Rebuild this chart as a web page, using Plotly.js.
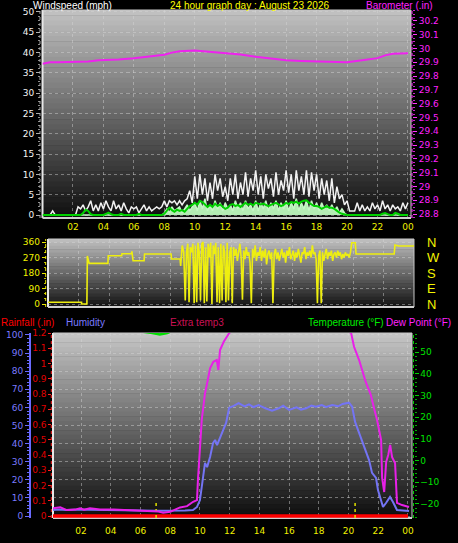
<!DOCTYPE html>
<html><head><meta charset="utf-8">
<script src="https://cdn.plot.ly/plotly-3.0.1.min.js"></script>
<style>html,body{margin:0;padding:0;background:#000;}#chart{width:458px;height:543px;}</style>
</head><body><div id="chart"></div>
<script>
// ---------------- DATA ----------------
const hourTickVals = [2,4,6,8,10,12,14,16,18,20,22,24];
const hourTickText = ['02','04','06','08','10','12','14','16','18','20','22','00'];

// wind, 10-minute samples from 00:00 to 24:00 (mph)
const windGust = [
 0,0,0,0,1,0, 0,0,0,0,0,0, 0,0,2,1.5,2.5,1, 2,3.5,1,2.5,1,3,
 1.5,3.5,2,1,3.5,1.5, 2.5,1,3,1.5,0.5,2, 1.5,2,0.5,1.5,2.5,1, 2,1,1.5,2,1.5,2,
 3.5,2,3.5,3,3.5,2.5, 3.5,2.5,3.5,4,6,3, 9.5,4,10,5,9,3.5, 8,4,10,6,9,4.5,
 7,3.5,9,5,10,4, 8,5,10.5,4.5,9,6, 11,5,9.5,4,10,6.5, 9,4.5,10.5,5,8.5,6,
 11,5.5,10,4,11,6, 9.5,5,11,4.5,10.5,6, 10,4,9,5,8.5,3.5, 9,3,7,4,5,2.5,
 3.5,1,1,1,3,1, 2.5,1,2,1,3,1.5, 2.5,1,3.5,1.5,2.5,1, 2.5,1.5,2,1,3,1.5, 3];
const windSpeed = [
 0,0,0,0,0,0, 0,0,0,0,0,0, 0,0,0,0,0,0, 0,0,0,0,0,0,
 0,0,0,0,0,0, 0,0,0,0,0,0, 0,0,0,0,0,0, 0,0,0,0,0,0,
 0.5,1.5,0.5,2,1,1.5, 2,0.5,1.5,2.5,1,2, 3,1,3.5,1.5,4,1, 2.5,1,3.5,1.5,3,1,
 3,1.5,2.5,1,3.5,1.5, 3,1,3.5,1.5,2.5,1, 3.5,1,3,1.5,3.5,1, 3,1.5,3.5,1,3,1.5,
 3.5,1,3,1.5,4,1, 3,1.5,3.5,1,3.5,1.5, 3,1,3,1.5,2.5,1, 2.5,1,2,0.5,1.5,0.5,
 0,0,0,0,0,0, 0,0,0,0,0,0, 0,0,0,0,0,0, 0,0,0,0,0,0, 0];
const windAvg = [
 0,0,0,0,0,0, 0,0,0,0,0,0, 0,0,0,0,0.5,1.3, 1,0.2,0,0,0,0,
 0,0.3,0.6,0.2,0,0, 0,0.3,0,0,0,0, 0,0,0.3,0,0,0, 0,0,0,0,0,0,
 0.3,1,1.8,1.2,0.8,1.3, 1,1.2,0.8,1.5,2.2,2.5, 3,2.5,3.5,3.2,2.5,2, 2.5,2,2.8,2.2,2.6,2,
 1.5,1.8,2.5,2.7,2.2,2.5, 2,2.5,3,2.5,2.8,2.4, 3,2.8,2.6,2.8,2.4,2.2, 2.5,2.8,3,2.6,2.2,2.5,
 3,2.7,3.2,3,3.3,2.8, 3.3,3.5,3.6,3,2.5,2.2, 2.2,2,1.5,1.8,2.2,1.8, 1.8,1.5,1,0.6,0.3,0.1,
 0,0,0,0,0,0, 0,0,0,0,0,0, 0,0,0.3,0.5,0.2,0, 0,0.5,0.3,0,0,0, 0];
const windHours = windGust.map((_, i) => i / 6);

// barometer (in)
const baroHours  = [0,0.5,1,2,3,3.7,4,5,6,7,8,8.5,9,10,10.5,11,12,13,14,15,16,17,18,19,20,21,22,22.5,23,24];
const baroValues = [29.89,29.90,29.90,29.90,29.905,29.915,29.915,29.92,29.93,29.94,29.955,29.97,29.98,29.985,29.98,29.975,29.97,29.957,29.94,29.925,29.915,29.91,29.905,29.90,29.90,29.915,29.93,29.95,29.962,29.965];
const baroTickVals = [28.8,28.9,29,29.1,29.2,29.3,29.4,29.5,29.6,29.7,29.8,29.9,30,30.1,30.2];

// wind direction (degrees)
const dirStepHours = [0,2.2,2.2,2.55,2.58,2.7,3.93,3.95,4.83,4.85,5.47,5.5,5.58,6.3,6.33,8.07,8.1,8.66,8.7,8.8,8.9];
const dirStepDeg   = [10,10,0,0,279,236,236,280,280,292,292,306,251,251,290,290,261,261,221,340,300];
const dirGustyStart = 9; // 5-minute samples from 09:00
const dirGustyDeg = [
 20,300,350,10,330,300,350,5,340,10,355,300,
 20,350,360,5,330,15,350,270,355,0,340,290,
 355,10,330,5,350,20,340,300,10,355,20,300,
 330,5,330,280,320,250,300,350,270,25,310,260,
 330,280,300,240,5,320,270,340,250,300,280,330,
 250,310,270,320,230,290,310,260,300,5,290,320,
 260,300,250,290,320,270,300,240,310,280,330,260,
 290,310,250,300,270,320,280,240,300,290,330,260,
 300,280,310,270,340,290,300,260,5,280,310,5,
 300,250,290,320,260,300,280,310,250,290,300,270,
 310,280,300,260,290,270,300,280,290,270,300];
const dirTailHours = [19.92,20.15,20.2,22.7,22.75,23,24];
const dirTailDeg   = [356,356,290,290,343,337,337];
const dirTickVals = [0,90,180,270,360];
const dirCompass  = ['N','E','S','W','N'];

// humidity (%)
const humHours  = [0.1,0.5,1,1.5,2,2.5,3,4,5,6,7,8,9,9.53,9.8,10.0,10.2,10.34,10.48,10.68,10.88,11.02,11.15,11.35,11.56,11.76,11.96,12.3,12.6,13.0,13.3,13.6,13.95,14.4,14.85,15.3,15.6,16.0,16.5,16.8,17.15,17.5,17.8,18.2,18.5,18.9,19.3,19.6,20.03,20.24,20.37,20.44,20.71,21.04,21.38,21.58,21.85,21.98,22.25,22.32,22.52,22.79,22.99,23.26,24.07];
const humValues = [3.3,3.6,3.3,3.5,3.6,3.4,3.3,3.1,3,3,2.9,2.8,3,3.3,5,8.8,19.9,29.3,27,32.6,40.3,42,39.2,43.6,47.5,51.4,59.7,61,62.3,60.5,61.7,60.2,61.3,59.5,58.2,59.5,61,58.6,60,58.8,59.5,61,60.4,61.3,60.2,61.3,60.6,61.9,62.6,60.4,55,52,45.9,38.1,30.9,23.8,21,14.4,7.7,5,7.2,10.5,7.7,3.3,2.8];

// dew point (°F)
const dewHours  = [0.1,0.6,1.04,1.6,1.93,2.2,2.6,3.28,4.2,5.1,6.0,6.64,7.2,7.52,8.0,8.66,9.13,9.54,9.8,9.87,10.0,10.05,10.12,10.23,10.34,10.46,10.57,10.68,10.9,11.13,11.24,11.35,11.6,11.8,11.96,12.3,14,16,18,19.8,20.17,20.37,20.71,21.15,21.5,21.72,21.92,22.19,22.26,22.4,22.53,22.67,22.8,22.93,23.13,23.26,23.6,24.07];
const dewValues = [-22,-21.5,-22.8,-22.6,-22,-22.6,-22,-22.5,-22.6,-22.8,-22.9,-23.1,-23.5,-24,-23.6,-21.6,-21,-19,-18.2,-8.2,3.3,11,18.7,24.8,31,34.8,39.4,42.5,45.5,46.3,41.7,50.9,54.7,57,58.6,61,64,65,63,60,58.8,52.4,46.3,36.3,30.2,24,18.7,9.5,-8,-14.5,-0.7,2.6,7.2,1.6,-1.1,-19.5,-20.5,-21.4];

// temperature (°F) - mostly above the displayed range
const tempHours  = [0,2,4,5.5,6.5,6.8,7.3,7.8,8.2,9,10,12,14,16,18,20,22,24];
const tempValues = [66,64,62,60,59.2,58.7,58.1,58.7,60,64,70,80,86,88,84,76,70,67];

// rainfall (in)
const rainHours  = [0,2,4,6,8,10,12,14,16,18,20,22,24];
const rainValues = [0,0,0,0,0,0,0,0,0,0,0,0,0];
const rainTickVals = [0,0.1,0.2,0.3,0.4,0.5,0.6,0.7,0.8,0.9,1,1.1,1.2];

// sunrise / sunset (hours)
const sunEvents = [7.05, 20.44];

// ---------------- LAYOUT HELPERS ----------------
const W = 458, H = 543;
const px = v => v / W;
const py = v => 1 - v / H;
const TF = 'Liberation Sans, Arial, sans-serif';
const TK = 'DejaVu Sans, Arial, sans-serif';
const GRID = 'rgba(215,215,215,0.45)';

function bands(x0, x1, yTop, yBot, cTop, cBot, n) {
  const out = [];
  for (let i = 0; i < n; i++) {
    const t = i / (n - 1);
    const c = Math.round(cTop + (cBot - cTop) * t);
    const ya = yTop + (yBot - yTop) * i / n;
    const yb = yTop + (yBot - yTop) * (i + 1) / n + 0.6;
    out.push({type:'rect', xref:'paper', yref:'paper', x0:px(x0), x1:px(x1),
      y0:py(Math.min(yb, yBot)), y1:py(ya), fillcolor:`rgb(${c},${c},${c})`, line:{width:0}, layer:'below'});
  }
  return out;
}
function frame(x0, x1, yTop, yBot) {
  return [
    {type:'line', xref:'paper', yref:'paper', x0:px(x0), x1:px(x0), y0:py(yBot), y1:py(yTop), line:{color:'#e8e8e8', width:2}, layer:'below'},
    {type:'line', xref:'paper', yref:'paper', x0:px(x0), x1:px(x1), y0:py(yBot), y1:py(yBot), line:{color:'#d0d0d0', width:2}, layer:'below'},
    {type:'line', xref:'paper', yref:'paper', x0:px(x0), x1:px(x1), y0:py(yTop), y1:py(yTop), line:{color:'#c8c8c8', width:1}, layer:'below'},
    {type:'line', xref:'paper', yref:'paper', x0:px(x1), x1:px(x1), y0:py(yBot), y1:py(yTop), line:{color:'#c8c8c8', width:1}, layer:'below'}
  ];
}
function dottedAxis(x, yTop, yBot, color) {
  return {type:'line', xref:'paper', yref:'paper', x0:px(x), x1:px(x), y0:py(yBot), y1:py(yTop),
    line:{color:color, width:1, dash:'dot'}, layer:'above'};
}

const shapes = [].concat(
  bands(42.5, 411, 10, 218, 192, 16, 40),
  bands(48, 414, 239, 307, 188, 22, 20),
  bands(53, 412, 333, 518, 196, 14, 40),
  frame(42.5, 411, 10, 218),
  frame(48, 414, 239, 307),
  frame(53, 412, 333, 518),
  [dottedAxis(40, 10, 218, '#a8a8a8'),
   dottedAxis(412, 10, 218, '#ff33ff'),
   dottedAxis(45.7, 239, 307, '#e8e800'),
   dottedAxis(51.3, 333, 518, '#ff2020'),
   dottedAxis(413.5, 333, 518, '#00d000')]
);

// ---------------- TRACES ----------------
const dirHours = dirStepHours
  .concat(dirGustyDeg.map((_, i) => dirGustyStart + i / 12))
  .concat(dirTailHours);
const dirDeg = dirStepDeg.concat(dirGustyDeg).concat(dirTailDeg);

const traces = [
  {x:windHours, y:windGust, xaxis:'x', yaxis:'y', mode:'lines', line:{color:'#f2f2f2', width:1.5}, hoverinfo:'skip'},
  {x:windHours, y:windSpeed, xaxis:'x', yaxis:'y', mode:'lines', fill:'tozeroy', fillcolor:'#b4ecb4', line:{color:'#c4f6c4', width:1.5}, hoverinfo:'skip'},
  {x:windHours, y:windAvg, xaxis:'x', yaxis:'y', mode:'lines', line:{color:'#00d000', width:2}, hoverinfo:'skip'},
  {x:baroHours, y:baroValues, xaxis:'x', yaxis:'y2', mode:'lines', line:{color:'#ee22ee', width:2}, hoverinfo:'skip'},
  {x:dirHours, y:dirDeg, xaxis:'x2', yaxis:'y3', mode:'lines', line:{color:'#eeee10', width:1.6}, hoverinfo:'skip'},
  {x:dirHours, y:dirDeg, xaxis:'x2', yaxis:'y4', mode:'lines', opacity:0, line:{width:0}, hoverinfo:'skip'},
  {x:humHours, y:humValues, xaxis:'x3', yaxis:'y5', mode:'lines', line:{color:'#7474f4', width:2}, hoverinfo:'skip'},
  {x:tempHours, y:tempValues, xaxis:'x3', yaxis:'y7', mode:'lines', line:{color:'#00e000', width:2.5}, hoverinfo:'skip'},
  {x:dewHours, y:dewValues, xaxis:'x3', yaxis:'y7', mode:'lines', line:{color:'#e820e8', width:2}, hoverinfo:'skip'},
  {x:rainHours, y:rainValues, xaxis:'x3', yaxis:'y6', mode:'lines', line:{color:'#ff0000', width:3.5}, hoverinfo:'skip'}
];
sunEvents.forEach(h => traces.push({x:[h, h], y:[-0.013, 0.105], xaxis:'x3', yaxis:'y6', mode:'lines',
  line:{color:'#e0e000', width:1.5, dash:'dot'}, hoverinfo:'skip'}));

// ---------------- AXES ----------------
const xCommon = {tickvals:hourTickVals, ticktext:hourTickText, tickfont:{family:TK, size:9, color:'#f0f000'},
  showgrid:true, gridcolor:GRID, griddash:'dot', gridwidth:1, zeroline:false, showline:false, ticks:'', fixedrange:true};

const layout = {
  width:W, height:H, margin:{l:0, r:0, t:0, b:0},
  paper_bgcolor:'#000000', plot_bgcolor:'rgba(0,0,0,0)', showlegend:false,
  xaxis: Object.assign({}, xCommon, {domain:[px(42.5), px(411)], range:[0, 24.2], anchor:'y', ticklabelstandoff:2}),
  yaxis: {domain:[py(218), py(10)], range:[-0.74, 50.49], anchor:'free', position:px(40), side:'left',
    tick0:0, dtick:5, ticks:'outside', ticklen:4, tickcolor:'#b0b0b0', tickfont:{family:TK, size:9, color:'#f4f4f4'},
    showgrid:true, gridcolor:GRID, griddash:'dot', zeroline:false, showline:false,
    minor:{dtick:1, ticks:'outside', ticklen:2, tickcolor:'#909090', showgrid:false}},
  yaxis2: {overlaying:'y', side:'right', anchor:'free', position:px(412), range:[28.771, 30.279],
    tickvals:baroTickVals, ticktext:baroTickVals.map(String), ticks:'outside', ticklen:4, tickcolor:'#ff33ff',
    tickfont:{family:TK, size:9, color:'#ff22ff'}, showgrid:false, zeroline:false, showline:false,
    minor:{dtick:0.025, ticks:'outside', ticklen:2, tickcolor:'#cc22cc'}},
  xaxis2: Object.assign({}, xCommon, {domain:[px(48), px(414)], range:[0, 24], anchor:'y3', showticklabels:false}),
  yaxis3: {domain:[py(307), py(239)], range:[-17.4, 377.4], anchor:'free', position:px(45.7), side:'left',
    tickvals:dirTickVals, ticks:'outside', ticklen:4, tickcolor:'#e8e800', tickfont:{family:TK, size:9, color:'#f0f000'},
    showgrid:true, gridcolor:GRID, griddash:'dot', zeroline:false, showline:false,
    minor:{dtick:30, ticks:'outside', ticklen:2, tickcolor:'#c8c800'}},
  yaxis4: {overlaying:'y3', side:'right', anchor:'free', position:px(426), range:[-17.4, 377.4],
    tickvals:dirTickVals, ticktext:dirCompass, ticks:'', tickfont:{family:'Liberation Sans, Arial, sans-serif', size:13, color:'#f4f400'},
    showgrid:false, zeroline:false, showline:false},
  xaxis3: Object.assign({}, xCommon, {domain:[px(53), px(412)], range:[0.11, 24.27], anchor:'y5', ticklabelstandoff:6}),
  yaxis5: {domain:[py(518), py(333)], range:[-1.1, 101.1], anchor:'free', position:px(30), side:'left',
    tick0:0, dtick:10, ticks:'outside', ticklen:4, tickcolor:'#6a6aff', tickfont:{family:TK, size:9, color:'#7a7aff'},
    showline:true, linecolor:'#6a6aff', linewidth:2, showgrid:true, gridcolor:GRID, griddash:'dot', zeroline:false,
    minor:{dtick:2, ticks:'outside', ticklen:2, tickcolor:'#6a6aff'}},
  yaxis6: {overlaying:'y5', side:'left', anchor:'free', position:px(51.3), range:[-0.013, 1.2],
    tickvals:rainTickVals, ticktext:rainTickVals.map(String), ticks:'outside', ticklen:3, tickcolor:'#ff2020',
    tickfont:{family:TK, size:9, color:'#e00000'}, showgrid:false, zeroline:false, showline:false},
  yaxis7: {overlaying:'y5', side:'right', anchor:'free', position:px(413.5), range:[-26.46, 58.75],
    tick0:0, dtick:10, ticks:'outside', ticklen:4, tickcolor:'#00d000', tickfont:{family:TK, size:9, color:'#00e000'},
    showgrid:false, zeroline:false, showline:false,
    minor:{dtick:2, ticks:'outside', ticklen:2, tickcolor:'#00b000'}},
  shapes: shapes,
  annotations: [
    {text:'Windspeed (mph)', x:px(32), y:py(6), color:'#ffffff'},
    {text:'24 hour graph day : August 23 2026', x:px(169), y:py(6), color:'#ffff00'},
    {text:'Barometer (.in)', x:px(365), y:py(6), color:'#ff22ff'},
    {text:'Rainfall (.in)', x:px(0), y:py(322), color:'#ff0000'},
    {text:'Humidity', x:px(65), y:py(322), color:'#7b7bff'},
    {text:'Extra temp3', x:px(169), y:py(322), color:'#cc1155'},
    {text:'Temperature (°F)', x:px(307), y:py(322), color:'#00ee00'},
    {text:'Dew Point (°F)', x:px(385), y:py(322), color:'#ff22ff'}
  ].map(a => ({text:a.text, x:a.x, y:a.y, xref:'paper', yref:'paper', xanchor:'left', yanchor:'middle',
    showarrow:false, borderpad:0, font:{family:TF, size:10, color:a.color}}))
};

Plotly.newPlot('chart', traces, layout, {staticPlot:true, displayModeBar:false});
</script></body></html>
